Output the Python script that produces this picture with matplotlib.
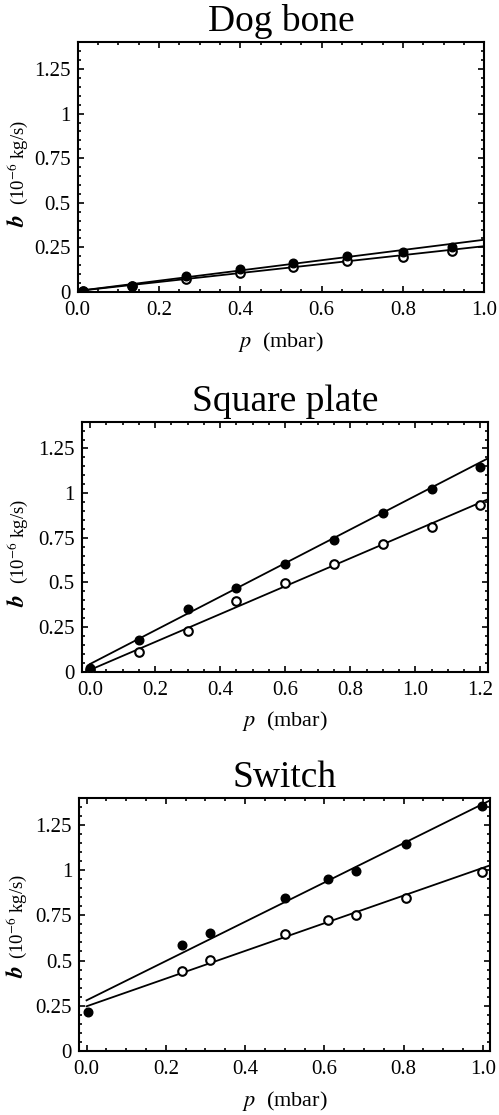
import matplotlib
matplotlib.use('Agg')
import matplotlib.pyplot as plt
import numpy as np
from matplotlib.ticker import MultipleLocator, FuncFormatter

plt.rcParams.update({
    'font.family': ['Liberation Serif', 'DejaVu Serif'],
    'mathtext.fontset': 'stix',
    'axes.linewidth': 1.5,
})

# ---- data ----
titles = ['Dog bone', 'Square plate', 'Switch']

# Dog bone
dog_p = [0.014, 0.133, 0.266, 0.399, 0.529, 0.663, 0.799, 0.920]
dog_filled = [0.005, 0.036, 0.088, 0.127, 0.164, 0.203, 0.224, 0.255]
dog_open = [0.005, 0.034, 0.071, 0.105, 0.138, 0.175, 0.199, 0.231]
dog_fit_p = [0.0, 1.0]
dog_fit_filled = [0.006, 0.293]
dog_fit_open = [0.006, 0.257]

# Square plate
sq_p = [0.0, 0.15, 0.30, 0.45, 0.60, 0.75, 0.90, 1.05, 1.20]
sq_filled = [0.019, 0.177, 0.353, 0.467, 0.603, 0.737, 0.890, 1.021, 1.147]
sq_open = [0.010, 0.112, 0.228, 0.396, 0.495, 0.603, 0.715, 0.811, 0.935]
sq_fit_p = [0.0, 1.2225]
sq_fit_filled = [0.043, 1.194]
sq_fit_open = [0.010, 0.965]

# Switch
sw_p = [0.004, 0.240, 0.311, 0.500, 0.609, 0.679, 0.807, 0.998]
sw_filled = [0.216, 0.587, 0.651, 0.844, 0.951, 0.993, 1.145, 1.354]
sw_open_p = [0.240, 0.311, 0.500, 0.609, 0.679, 0.807, 0.998]
sw_open = [0.441, 0.503, 0.646, 0.723, 0.750, 0.847, 0.990]
sw_fit_p = [0.0, 1.018]
sw_fit_filled = [0.280, 1.385]
sw_fit_open = [0.247, 1.026]

panels = [
    (dog_p, dog_filled, dog_p, dog_open, dog_fit_p, dog_fit_filled, dog_fit_open),
    (sq_p, sq_filled, sq_p, sq_open, sq_fit_p, sq_fit_filled, sq_fit_open),
    (sw_p, sw_filled, sw_open_p, sw_open, sw_fit_p, sw_fit_filled, sw_fit_open),
]

# axes boxes in pixels (left, top, right, bottom)
W, H = 499, 1115
boxes = [
    (77.7, 42.3, 484.3, 292.0),
    (81.7, 421.7, 487.7, 671.7),
    (79.0, 797.7, 490.0, 1051.0),
]
xlims = [(0.0, 1.0), (-0.0255, 1.2225), (-0.019, 1.018)]
# y-label baseline x and join point (axes fraction)
ylab_x = [-0.133, -0.142, -0.136]
ylab_y = [0.31, 0.31, 0.34]
ylab_gap = [0.04, 0.04, 0.025]

fig = plt.figure(figsize=(W / 100, H / 100), dpi=100)

for i, (px, bf, po, bo, fx, ff, fo) in enumerate(panels):
    l, t, r, b = boxes[i]
    ax = fig.add_axes([l / W, 1 - b / H, (r - l) / W, (b - t) / H])

    ax.plot(fx, ff, color='black', lw=1.3, zorder=2)
    ax.plot(fx, fo, color='black', lw=1.3, zorder=2)
    ax.plot(po, bo, 'o', ms=6.2, mfc='white', mec='black', mew=1.5, zorder=3)
    ax.plot(px, bf, 'o', ms=6.2, mfc='black', mec='black', zorder=4)

    ax.set_xlim(*xlims[i])
    ax.set_ylim(0, 1.4)
    ax.xaxis.set_major_locator(MultipleLocator(0.2))
    ax.xaxis.set_minor_locator(MultipleLocator(0.05))
    ax.yaxis.set_major_locator(MultipleLocator(0.25))
    ax.yaxis.set_minor_locator(MultipleLocator(0.05))
    ax.xaxis.set_major_formatter(FuncFormatter(lambda v, pos: f'{v:.1f}'))
    ax.yaxis.set_major_formatter(FuncFormatter(lambda v, pos: f'{v:g}'))
    ax.tick_params(which='both', direction='in', top=True, right=True,
                   width=1.2, labelsize=15)
    ax.tick_params(which='major', length=4.5)
    ax.tick_params(axis='x', which='major', pad=6.5)
    ax.tick_params(axis='y', which='major', pad=5)
    ax.tick_params(which='minor', length=2.5)

    ax.set_title(titles[i], fontsize=27, pad=8)
    ax.set_xlabel(r'$p$  (mbar)', fontsize=16, labelpad=7)

    # y label: large bold-italic b followed by smaller unit text
    ax.text(ylab_x[i], ylab_y[i], r'$\mathbfit{b}$', transform=ax.transAxes,
            rotation=90, rotation_mode='anchor', ha='right', va='baseline',
            fontsize=17)
    ax.text(ylab_x[i], ylab_y[i] + ylab_gap[i], r'(10$^{-6}$ kg/s)',
            transform=ax.transAxes, rotation=90, rotation_mode='anchor',
            ha='left', va='baseline', fontsize=13.5)

fig.savefig('out.png', dpi=100)
